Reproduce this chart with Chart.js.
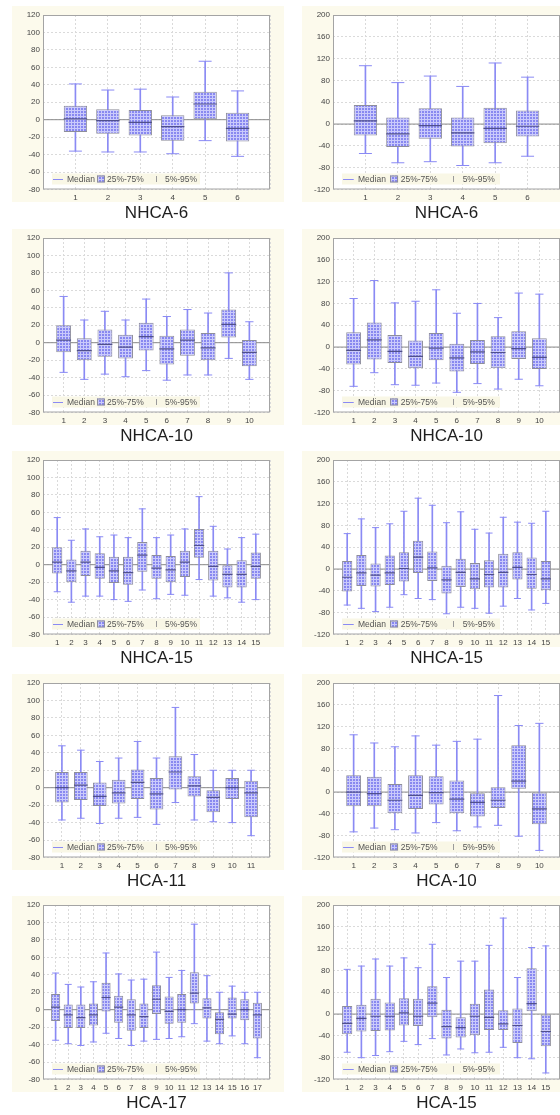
<!DOCTYPE html>
<html>
<head>
<meta charset="utf-8">
<title>Box plots</title>
<script src="https://cdn.jsdelivr.net/npm/chart.js@4.4.1/dist/chart.umd.min.js"></script>
<style>
  html, body { margin: 0; padding: 0; background: #fff; overflow: hidden; }
  body { width: 560px; height: 1115px; position: relative; }
  .panel { position: absolute; width: 290px; height: 222px; }
</style>
</head>
<body>
<script>
// Tick labels for the two kinds of y axes
const smallTicks = [-80, -60, -40, -20, 0, 20, 40, 60, 80, 100, 120];
const wideTicks = [-120, -80, -40, 0, 40, 80, 120, 160, 200];
const caseLabels = ['1', '2', '3', '4', '5', '6', '7', '8', '9', '10', '11', '12', '13', '14', '15', '16', '17'];

// NHCA-6 (left)
const nhca6A_p5  = [-36, -37, -37, -39, -24, -42];
const nhca6A_q25 = [-14, -16, -18, -24, 0, -25];
const nhca6A_med = [1, -1, -3, -8, 18, -10];
const nhca6A_q75 = [16, 12, 11, 5, 32, 8];
const nhca6A_p95 = [41, 34, 35, 26, 67, 33];

// NHCA-6 (right)
const nhca6B_p5  = [-54, -71, -69, -76, -71, -59];
const nhca6B_q25 = [-21, -42, -27, -41, -35, -23];
const nhca6B_med = [6, -18, -3, -16, -8, -4];
const nhca6B_q75 = [35, 12, 29, 12, 30, 25];
const nhca6B_p95 = [107, 76, 88, 69, 112, 86];

// NHCA-10 (left)
const nhca10A_p5  = [-34, -42, -36, -39, -32, -43, -37, -37, -18, -42];
const nhca10A_q25 = [-11, -20, -16, -18, -9, -25, -15, -20, 6, -27];
const nhca10A_med = [3, -9, -2, -5, 7, -7, 3, -6, 21, -11];
const nhca10A_q75 = [20, 5, 15, 9, 23, 8, 15, 11, 38, 3];
const nhca10A_p95 = [53, 26, 36, 26, 50, 30, 38, 34, 80, 24];

// NHCA-10 (right)
const nhca10B_p5  = [-72, -47, -69, -70, -66, -83, -67, -77, -59, -71];
const nhca10B_q25 = [-32, -23, -29, -39, -24, -45, -31, -39, -22, -40];
const nhca10B_med = [-6, 13, -8, -17, -2, -20, -9, -10, -3, -19];
const nhca10B_q75 = [27, 45, 22, 12, 26, 6, 13, 20, 29, 16];
const nhca10B_p95 = [89, 122, 81, 84, 105, 62, 80, 54, 99, 97];

// NHCA-15 (left)
const nhca15A_p5  = [-31, -43, -36, -36, -40, -42, -29, -39, -34, -35, -17, -36, -38, -43, -40];
const nhca15A_q25 = [-10, -20, -13, -16, -21, -23, -8, -16, -20, -14, 8, -18, -26, -26, -16];
const nhca15A_med = [3, -7, 3, -3, -7, -9, 11, -4, -6, 3, 22, -2, -11, -11, -2];
const nhca15A_q75 = [20, 6, 16, 13, 9, 9, 26, 11, 10, 16, 41, 16, 0, 5, 14];
const nhca15A_p95 = [54, 28, 41, 32, 34, 31, 64, 31, 34, 41, 78, 44, 18, 31, 35];

// NHCA-15 (right)
const nhca15B_p5  = [-66, -72, -78, -70, -47, -54, -56, -82, -70, -72, -81, -68, -54, -75, -63];
const nhca15B_q25 = [-41, -31, -32, -29, -23, -7, -22, -45, -33, -37, -34, -34, -19, -36, -39];
const nhca15B_med = [-15, -7, -11, -7, 1, 22, 2, -20, -6, -18, -10, -6, 3, -10, -18];
const nhca15B_q75 = [15, 26, 10, 25, 31, 52, 32, 6, 19, 11, 16, 28, 31, 21, 15];
const nhca15B_p95 = [65, 92, 76, 83, 106, 130, 117, 85, 105, 73, 66, 95, 86, 84, 106];

// HCA-11
const hca11_p5  = [-37, -35, -41, -35, -34, -42, -17, -37, -39, -40, -55];
const hca11_q25 = [-17, -14, -21, -18, -13, -25, -2, -10, -28, -13, -34];
const hca11_med = [0, 3, -10, -6, 6, -7, 18, 2, -11, 0, -6];
const hca11_q75 = [18, 18, 6, 9, 21, 11, 36, 13, -3, 11, 8];
const hca11_p95 = [48, 43, 30, 34, 53, 34, 92, 38, 20, 20, 20];

// HCA-10
const hca10_p5  = [-73, -66, -69, -75, -56, -71, -64, -61, -81, -107];
const hca10_q25 = [-26, -26, -39, -31, -23, -39, -45, -29, 6, -59];
const hca10_med = [0, -3, -15, -6, -1, -13, -19, -15, 20, -31];
const hca10_q75 = [31, 28, 15, 31, 29, 21, -2, 9, 86, 0];
const hca10_p95 = [105, 90, 83, 103, 86, 93, 97, 177, 122, 126];

// HCA-17
const hca17_p5  = [-35, -39, -41, -37, -27, -33, -41, -36, -34, -33, -31, -16, -36, -39, -30, -39, -55];
const hca17_q25 = [-13, -21, -21, -18, -2, -15, -24, -21, -5, -16, -15, 7, -10, -28, -10, -12, -33];
const hca17_med = [3, -6, -9, -6, 14, 3, -6, -8, 12, -2, 0, 19, 2, -11, -5, 0, -6];
const hca17_q75 = [18, 6, 6, 7, 31, 16, 12, 7, 28, 15, 18, 43, 13, -3, 14, 12, 8];
const hca17_p95 = [42, 29, 26, 32, 65, 41, 34, 35, 66, 37, 45, 98, 39, 20, 27, 20, 20];

// HCA-15
const hca15_p5  = [-70, -80, -76, -69, -50, -56, -45, -75, -64, -71, -70, -61, -80, -82, -108];
const hca15_q25 = [-37, -32, -31, -30, -21, -22, -6, -45, -43, -39, -29, -29, -53, 5, -59];
const hca15_med = [-17, -8, -4, -4, 2, -4, 20, -23, -25, -4, -6, -18, -21, 19, -32];
const hca15_q75 = [15, 17, 28, 21, 29, 28, 51, 8, -6, 19, 45, 7, 10, 84, -1];
const hca15_p95 = [82, 88, 101, 88, 103, 85, 128, 67, 97, 97, 126, 176, 67, 122, 125];

const panels = [
    { title: 'NHCA-6',  p5: nhca6A_p5,  q25: nhca6A_q25,  med: nhca6A_med,  q75: nhca6A_q75,  p95: nhca6A_p95,  yTicks: smallTicks },
    { title: 'NHCA-6',  p5: nhca6B_p5,  q25: nhca6B_q25,  med: nhca6B_med,  q75: nhca6B_q75,  p95: nhca6B_p95,  yTicks: wideTicks },
    { title: 'NHCA-10', p5: nhca10A_p5, q25: nhca10A_q25, med: nhca10A_med, q75: nhca10A_q75, p95: nhca10A_p95, yTicks: smallTicks },
    { title: 'NHCA-10', p5: nhca10B_p5, q25: nhca10B_q25, med: nhca10B_med, q75: nhca10B_q75, p95: nhca10B_p95, yTicks: wideTicks },
    { title: 'NHCA-15', p5: nhca15A_p5, q25: nhca15A_q25, med: nhca15A_med, q75: nhca15A_q75, p95: nhca15A_p95, yTicks: smallTicks },
    { title: 'NHCA-15', p5: nhca15B_p5, q25: nhca15B_q25, med: nhca15B_med, q75: nhca15B_q75, p95: nhca15B_p95, yTicks: wideTicks },
    { title: 'HCA-11',  p5: hca11_p5,   q25: hca11_q25,   med: hca11_med,   q75: hca11_q75,   p95: hca11_p95,   yTicks: smallTicks },
    { title: 'HCA-10',  p5: hca10_p5,   q25: hca10_q25,   med: hca10_med,   q75: hca10_q75,   p95: hca10_p95,   yTicks: wideTicks },
    { title: 'HCA-17',  p5: hca17_p5,   q25: hca17_q25,   med: hca17_med,   q75: hca17_q75,   p95: hca17_p95,   yTicks: smallTicks },
    { title: 'HCA-15',  p5: hca15_p5,   q25: hca15_q25,   med: hca15_med,   q75: hca15_q75,   p95: hca15_p95,   yTicks: wideTicks }
];

const whiskerColor = '#8a8af4';
const medianColor = '#50508c';
const boxBorder = '#8e8e9a';
const creamColor = '#fcfaec';

Chart.defaults.font.family = "'Liberation Sans', Arial, sans-serif";
Chart.defaults.color = '#444';

// small grid-like fill used by the boxes
function makeBoxPattern() {
    const tile = document.createElement('canvas');
    tile.width = 3;
    tile.height = 3;
    const t = tile.getContext('2d');
    t.fillStyle = '#8888f0';
    t.fillRect(0, 0, 3, 3);
    t.fillStyle = '#cacafb';
    t.fillRect(2, 0, 1, 3);
    t.fillRect(0, 2, 3, 1);
    return t.createPattern(tile, 'repeat');
}
const boxFill = makeBoxPattern();

// cream panel background with a white plot area
const panelBackground = {
    id: 'panelBackground',
    beforeDraw(chart) {
        const { ctx, chartArea } = chart;
        ctx.save();
        ctx.fillStyle = creamColor;
        ctx.fillRect(12, 6, 272, 196);
        ctx.fillStyle = '#ffffff';
        ctx.fillRect(chartArea.left, chartArea.top, chartArea.right - chartArea.left, chartArea.bottom - chartArea.top);
        ctx.restore();
    }
};

// frame round the plot and the small legend inside it
const frameAndLegend = {
    id: 'frameAndLegend',
    afterDatasetsDraw(chart, args, opts) {
        const { ctx, chartArea } = chart;
        ctx.save();
        ctx.strokeStyle = '#a4a4a4';
        ctx.lineWidth = 1;
        ctx.strokeRect(chartArea.left + 0.5, chartArea.top + 0.5, chartArea.right - chartArea.left - 1, chartArea.bottom - chartArea.top - 1);

        const w = opts.width;
        const s = w / 148;
        const h = 11;
        const x = chartArea.left + 9;
        const y = chartArea.bottom - 5 - h;
        const cy = y + h / 2;
        ctx.fillStyle = '#f9f7e6';
        ctx.fillRect(x, y, w, h);

        ctx.strokeStyle = whiskerColor;
        ctx.beginPath();
        ctx.moveTo(x + 1 * s, cy + 0.5);
        ctx.lineTo(x + 11 * s, cy + 0.5);
        ctx.stroke();

        ctx.fillStyle = boxFill;
        ctx.fillRect(x + 45 * s, cy - 3.5, 8, 7);
        ctx.strokeStyle = boxBorder;
        ctx.strokeRect(x + 45 * s + 0.5, cy - 3.5 + 0.5, 7, 6);

        ctx.strokeStyle = '#9a9a9a';
        ctx.beginPath();
        ctx.moveTo(x + 104 * s + 0.5, cy - 3);
        ctx.lineTo(x + 104 * s + 0.5, cy + 3);
        ctx.stroke();

        ctx.fillStyle = '#555';
        ctx.font = "8.5px 'Liberation Sans', Arial, sans-serif";
        ctx.textBaseline = 'middle';
        ctx.fillText('Median', x + 15 * s, cy + 0.5);
        ctx.fillText('25%-75%', x + 55 * s, cy + 0.5);
        ctx.fillText('5%-95%', x + 113 * s, cy + 0.5);
        ctx.restore();
    }
};

function renderPanel(panel, index) {
    const col = index % 2;
    const row = Math.floor(index / 2);
    const holder = document.createElement('div');
    holder.className = 'panel';
    holder.style.left = (col * 290) + 'px';
    holder.style.top = (row * 222.5) + 'px';
    const canvas = document.createElement('canvas');
    canvas.width = 290;
    canvas.height = 222;
    holder.appendChild(canvas);
    document.body.appendChild(holder);

    const n = panel.p5.length;
    const labels = caseLabels.slice(0, n);
    const spacing = 227 / (n + 1);
    const xs = labels.map((_, i) => i + 1);

    const boxes = xs.map((x, i) => ({ x: x, y: [panel.q25[i], panel.q75[i]] }));
    const whiskers = xs.map((x, i) => ({ x: x, y: [panel.p5[i], panel.p95[i]] }));
    const medians = xs.map((x, i) => ({ x: x, y: panel.med[i] }));
    const caps = xs.flatMap((x, i) => [{ x: x, y: panel.p5[i] }, { x: x, y: panel.p95[i] }]);
    const yTicks = panel.yTicks;

    new Chart(canvas, {
        type: 'bar',
        data: {
            datasets: [
                {
                    type: 'line',
                    data: [{ x: 0, y: 0 }, { x: n + 1, y: 0 }],
                    borderColor: '#8a8a8a',
                    borderWidth: 1,
                    pointRadius: 0,
                    order: 5
                },
                {
                    data: whiskers,
                    backgroundColor: whiskerColor,
                    barThickness: 1,
                    grouped: false,
                    order: 4
                },
                {
                    data: boxes,
                    backgroundColor: boxFill,
                    borderColor: boxBorder,
                    borderWidth: 1,
                    borderSkipped: false,
                    barPercentage: 0.72,
                    categoryPercentage: 1,
                    grouped: false,
                    order: 3
                },
                {
                    type: 'line',
                    data: caps,
                    showLine: false,
                    pointStyle: 'line',
                    pointRadius: Math.max(3.5, spacing * 0.2),
                    pointBorderColor: whiskerColor,
                    pointBorderWidth: 1,
                    order: 2
                },
                {
                    type: 'line',
                    data: medians,
                    showLine: false,
                    pointStyle: 'line',
                    pointRadius: spacing * 0.36,
                    pointBorderColor: medianColor,
                    pointBorderWidth: 1.2,
                    order: 1
                }
            ]
        },
        options: {
            responsive: false,
            animation: false,
            events: [],
            layout: { padding: { top: 15, right: 20, bottom: 0.5, left: 0 } },
            scales: {
                x: {
                    type: 'linear',
                    min: 0,
                    max: n + 1,
                    offset: false,
                    afterFit: (scale) => { scale.height = 15; },
                    grid: { offset: false, color: '#dadada', drawTicks: false },
                    border: { display: false, dash: [2, 2] },
                    ticks: {
                        stepSize: 1,
                        autoSkip: false,
                        maxRotation: 0,
                        padding: 3,
                        font: { size: 8 },
                        callback: (v) => (v >= 1 && v <= n) ? labels[v - 1] : ''
                    }
                },
                y: {
                    min: yTicks[0],
                    max: yTicks[yTicks.length - 1],
                    afterFit: (scale) => { scale.width = 43; },
                    grid: { color: '#dadada', drawTicks: false },
                    border: { display: false, dash: [2, 2] },
                    ticks: {
                        stepSize: yTicks[1] - yTicks[0],
                        padding: 3,
                        font: { size: 8 }
                    }
                }
            },
            plugins: {
                legend: { display: false },
                tooltip: { enabled: false },
                title: {
                    display: true,
                    text: panel.title,
                    position: 'bottom',
                    fullSize: false,
                    color: '#1e1e1e',
                    padding: 0,
                    font: { size: 17, weight: 'normal', lineHeight: 1 }
                },
                frameAndLegend: { width: col === 0 ? 148 : 158 }
            }
        },
        plugins: [panelBackground, frameAndLegend]
    });
}

document.addEventListener('DOMContentLoaded', () => {
    panels.forEach((panel, i) => renderPanel(panel, i));
});
</script>
</body>
</html>
